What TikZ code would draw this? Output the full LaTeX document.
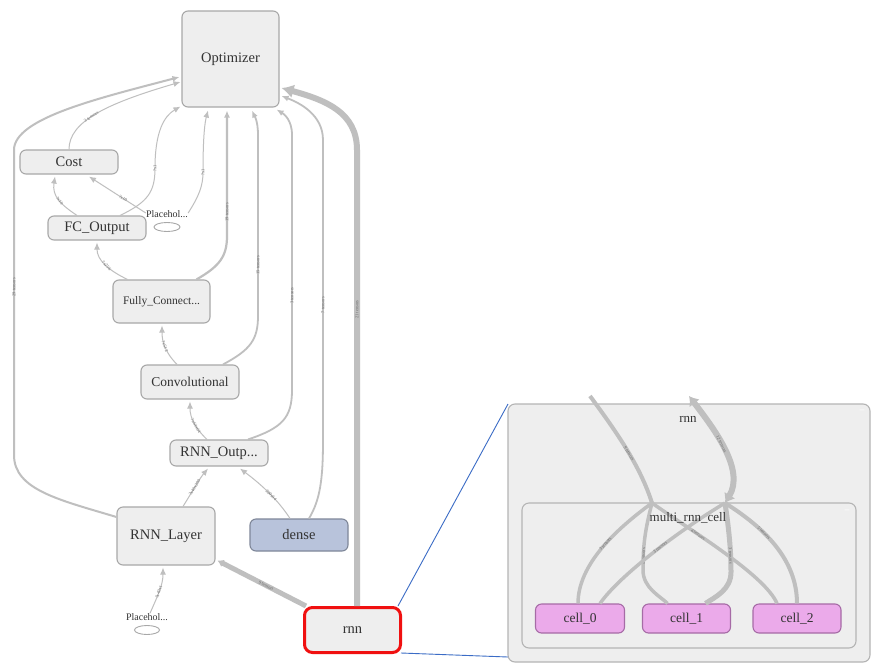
\documentclass[tikz,border=0pt]{standalone}
\usepackage{fontspec}
\setmainfont{Liberation Serif}
\usetikzlibrary{arrows.meta,calc,shapes.geometric}

\definecolor{nodefill}{HTML}{EEEEEE}
\definecolor{nodeline}{HTML}{A8A8A8}
\definecolor{edgecol}{HTML}{BFBFBF}
\definecolor{textcol}{HTML}{333333}
\definecolor{labcol}{HTML}{6A6A6A}
\definecolor{densefill}{HTML}{B8C3DB}
\definecolor{denseline}{HTML}{7F8799}
\definecolor{cellfill}{HTML}{EBAAEA}
\definecolor{cellline}{HTML}{A66BA6}
\definecolor{panelfill}{HTML}{EEEEEE}
\definecolor{panelline}{HTML}{B4B4B4}
\definecolor{selred}{HTML}{F01010}
\definecolor{zoomline}{HTML}{3B6CC6}

\tikzset{
  box/.style={draw=nodeline, fill=nodefill, line width=1.1pt, rounded corners=6pt,
    inner sep=0pt, text=textcol, font=\fontsize{14.5}{16}\selectfont},
  densebox/.style={box, draw=denseline, fill=densefill},
  cellbox/.style={box, draw=cellline, fill=cellfill, font=\fontsize{13.5}{15}\selectfont},
  selbox/.style={box, draw=selred, line width=3pt, rounded corners=8pt},
  phtext/.style={inner sep=0pt, text=textcol, font=\fontsize{10}{11}\selectfont},
  phoval/.style={draw=nodeline, fill=white, line width=0.9pt, ellipse, inner sep=0pt},
  flow/.style={draw=edgecol, line width=#1, -{Latex[length=7pt,width=6pt]}},
  bigflow/.style={draw=edgecol, line width=#1, -{Latex[length=12pt,width=14pt]}},
  pipe/.style={draw=edgecol, line width=#1},
  elabel/.style={font=\fontsize{4.5}{5}\selectfont, text=labcol, sloped, inner sep=0.5pt},
  grouptitle/.style={inner sep=0pt, text=textcol, font=\fontsize{13}{14}\selectfont},
  groupbox/.style={draw=panelline, fill=panelfill, line width=1.1pt, rounded corners=7pt},
  zoomlink/.style={draw=zoomline, line width=0.9pt},
}

\begin{document}
\begin{tikzpicture}[x=1pt,y=-1pt]
\useasboundingbox[fill=white] (0,0) rectangle (875,664);

% ---------------- main graph: nodes ----------------
\node[box, minimum width=97pt, minimum height=96pt] (opt) at (230.5,59) {Optimizer};
\node[box, minimum width=98pt, minimum height=24pt] (cost) at (69,162) {Cost};
\node[box, minimum width=98pt, minimum height=24pt] (fcout) at (97,228) {FC\_Output};
\node[box, minimum width=97pt, minimum height=43pt, font=\fontsize{11.5}{13}\selectfont] (fully) at (161.5,301.5) {Fully\_Connect...};
\node[box, minimum width=98pt, minimum height=34pt, font=\fontsize{13.5}{15}\selectfont] (conv) at (190,382) {Convolutional};
\node[box, minimum width=98pt, minimum height=26pt] (rnnout) at (219,453) {RNN\_Outp...};
\node[box, minimum width=98pt, minimum height=58pt] (rnnl) at (166,536) {RNN\_Layer};
\node[densebox, minimum width=98pt, minimum height=32pt] (dense) at (299,535) {dense};
\node[selbox, minimum width=96pt, minimum height=45pt] (rnn) at (352.5,630) {rnn};

\node[phtext] (ph1t) at (167,214) {Placehol...};
\node[phoval, minimum width=26pt, minimum height=9pt] (ph1) at (167,227) {};
\node[phtext] (ph2t) at (147,617) {Placehol...};
\node[phoval, minimum width=25pt, minimum height=9pt] (ph2) at (147,630) {};

% ---------------- main graph: edges ----------------
% RNN_Layer -> Optimizer, round the left side
\draw[flow=2pt] ($(rnnl.west)+(0,-19)$) .. controls (60,500) and (14,490) .. (14,455)
  -- node[elabel, pos=0.55] {29 tensors} (14,150)
  .. controls (14,118) and (100,98) .. ($(opt.west)+(-2,18)$);
% Cost -> Optimizer
\draw[flow=1pt] (cost.north) .. controls (69,122) and (105,104)
  .. node[elabel, pos=0.45] {3 tensors} ($(opt.west)+(-1,23)$);
% FC_Output -> Optimizer
\draw[flow=1pt] ($(fcout.north)+(23,0)$) .. controls (148,202) and (155,192) .. (155,168)
  node[elabel, pos=1] {?x1}
  .. controls (155,132) and (164,116) .. ($(opt.south west)+(-1,-1)$);
% Placeholder -> Optimizer
\draw[flow=1pt] ($(ph1t.east)+(0,-1)$) .. controls (199,196) and (203,186) .. (203,172)
  node[elabel, pos=1] {?x1}
  .. controls (203,135) and (205,122) .. ($(opt.south)+(-22.5,3)$);
% FC_Output -> Cost
\draw[flow=1pt] ($(fcout.north)+(-20,0)$) .. controls (60,204) and (52,196)
  .. node[elabel, pos=0.45] {?x10} ($(cost.south)+(-14,2)$);
% Placeholder -> Cost
\draw[flow=1pt] ($(ph1t.west)+(0,-1)$) -- node[elabel, pos=0.4] {?x10} ($(cost.south)+(20,2)$);
% Fully_Connected -> FC_Output
\draw[flow=1pt] ($(fully.north)+(-34,0)$) .. controls (108,270) and (97,260)
  .. node[elabel, pos=0.45] {?x256} ($(fcout.south)+(0,2)$);
% Fully_Connected -> Optimizer
\draw[flow=2.2pt] ($(fully.north)+(35,0)$) .. controls (220,266) and (227,256) .. (227,236)
  -- node[elabel, pos=0.19] {19 tensors} ($(opt.south)+(-3.5,3)$);
% Convolutional -> Fully_Connected
\draw[flow=1pt] ($(conv.north)+(-13,0)$) .. controls (165,352) and (162,342)
  .. node[elabel, pos=0.5] {?x512} ($(fully.south)+(0.5,2)$);
% Convolutional -> Optimizer
\draw[flow=1.8pt] ($(conv.north)+(33,0)$) .. controls (250,350) and (258,340) .. (258,316)
  -- node[elabel, pos=0.28] {15 tensors} (258,135)
  .. controls (258,120) and (254,115) .. ($(opt.south)+(21.5,3)$);
% RNN_Outp -> Convolutional
\draw[flow=1pt] ($(rnnout.north)+(-12,0)$) .. controls (195,428) and (190,418)
  .. node[elabel, pos=0.4] {?x64x64} ($(conv.south)+(0,2)$);
% RNN_Outp -> Optimizer
\draw[flow=1.8pt] ($(rnnout.north)+(29,0)$) .. controls (282,428) and (292,418) .. (292,390)
  -- node[elabel, pos=0.37] {3 tensors} (292,135)
  .. controls (292,120) and (284,114) .. ($(opt.south east)+(-3,2)$);
% dense -> Optimizer
\draw[flow=1.8pt] ($(dense.north)+(10,0)$) .. controls (320,500) and (323,480) .. (323,440)
  -- node[elabel, pos=0.45] {7 tensors} (323,140)
  .. controls (323,115) and (300,103) .. ($(opt.east)+(2,37)$);
% rnn -> Optimizer
\draw[bigflow=6pt] ($(rnn.north)+(4.5,0)$) -- node[elabel, pos=0.65] {21 tensors} (357,150)
  .. controls (357,112) and (325,100) .. ($(opt.east)+(2,29)$);
% RNN_Layer -> RNN_Outp
\draw[flow=1pt] ($(rnnl.north)+(17,0)$) .. controls (192,492) and (200,478)
  .. node[elabel, pos=0.45] {?x40x200} ($(rnnout.south)+(-11,2)$);
% dense -> RNN_Outp
\draw[flow=1pt] ($(dense.north)+(-9,0)$) .. controls (278,500) and (262,485)
  .. node[elabel, pos=0.45] {200x64} ($(rnnout.south)+(21,2)$);
% Placeholder -> RNN_Layer
\draw[flow=1pt] ($(ph2t.north)+(3,0)$) .. controls (158,595) and (163,585)
  .. node[elabel, pos=0.45] {?x40x1} ($(rnnl.south)+(-3,2)$);
% rnn -> RNN_Layer
\draw[pipe=5pt, -{Latex[length=6pt,width=8pt]}] ($(rnn.north west)+(3,0)$)
  -- node[elabel, pos=0.45] {9 tensors} ($(rnnl.south east)+(2,-5)$);

% ---------------- expanded rnn group ----------------
\draw[groupbox] (508,404) rectangle (870,662);
\node[grouptitle] (rnntitle) at (688,419) {rnn};
\node[inner sep=0pt, text=white, font=\bfseries\fontsize{9}{9}\selectfont] (rnnmin) at (862,411) {--};
\draw[groupbox] (522,503) rectangle (856,648);
\node[inner sep=0pt, text=white, font=\bfseries\fontsize{9}{9}\selectfont] (mrcmin) at (847,511) {--};

\coordinate (inA) at (590,396);
\coordinate (outB) at (689,396);
\coordinate (j1) at (652,503);
\coordinate (j2) at (725,503);

\node[cellbox, minimum width=89pt, minimum height=29pt] (cell0) at (580,618.5) {cell\_0};
\node[cellbox, minimum width=88pt, minimum height=29pt] (cell1) at (686.5,618.5) {cell\_1};
\node[cellbox, minimum width=88pt, minimum height=29pt] (cell2) at (797,618.5) {cell\_2};

% edges entering and leaving the group
\draw[pipe=4pt] (inA) .. controls (615,430) and (640,465)
  .. node[elabel, pos=0.55] {9 tensors} (j1);
\draw[pipe=6pt, {Latex[length=9pt,width=13pt]}-{Latex[length=9pt,width=13pt]}]
  (outB) .. controls (715,430) and (745,470)
  .. node[elabel, pos=0.45] {12 tensors} (j2);

% edges inside multi_rnn_cell
\draw[pipe=3.5pt] (j1) .. controls (615,530) and (578,565)
  .. node[elabel, pos=0.45] {3 tensors} ($(cell0.north)+(-2,0)$);
\draw[pipe=3.5pt] (j1) .. controls (645,530) and (643,545) .. (643,570)
  node[elabel, pos=0.8] {2 tensors}
  .. controls (643,588) and (660,596) .. ($(cell1.north)+(-19,0)$);
\draw[pipe=3.5pt] (j2) .. controls (680,530) and (620,575)
  .. node[elabel, pos=0.45] {3 tensors} ($(cell0.north)+(20,0)$);
\draw[pipe=3.5pt] (j1) .. controls (690,530) and (765,575)
  .. node[elabel, pos=0.33] {4 tensors} ($(cell2.north)+(-20,0)$);
\draw[pipe=5pt] (j2) .. controls (729,530) and (731,550) .. (731,572)
  node[elabel, pos=0.75] {3 tensors}
  .. controls (731,590) and (715,597) .. ($(cell1.north)+(19,0)$);
\draw[pipe=4pt] (j2) .. controls (765,528) and (797,560)
  .. node[elabel, pos=0.36] {5 tensors} ($(cell2.north)+(0,0)$);

% group title drawn over the edges
\node[grouptitle] (mrctitle) at (688,518) {multi\_rnn\_cell};

% link from the selected node to its expanded view
\draw[zoomlink] ($(rnn.north east)+(-4,0)$) -- (508,404);
\draw[zoomlink] ($(rnn.south east)+(-1,-1)$) -- (508,657);
\end{tikzpicture}
\end{document}
